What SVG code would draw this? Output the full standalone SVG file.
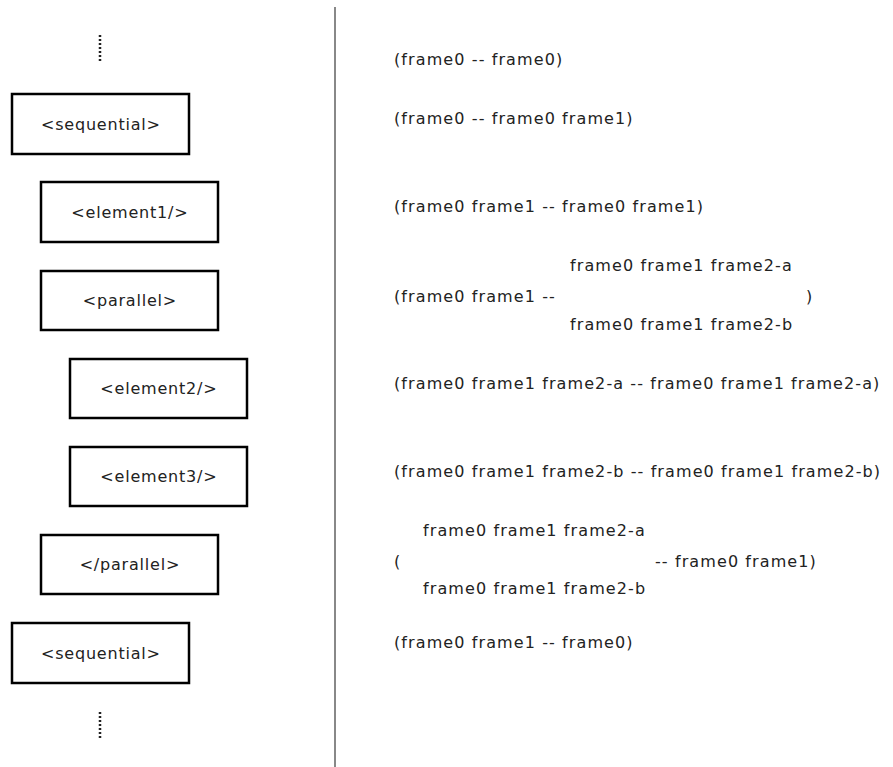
<svg xmlns="http://www.w3.org/2000/svg" width="893" height="767" viewBox="0 0 893 767">
  <style>
    .box rect { fill: #fff; stroke: #000; stroke-width: 2.5; }
    .lbl { font-family: "DejaVu Sans", Verdana, sans-serif; font-size: 16px; fill: #222; }
    .box .lbl { letter-spacing: 0.8px; text-anchor: middle; }
    #effects .lbl { letter-spacing: 1.1px; }
    .dots { stroke: #222; stroke-width: 2.5; stroke-dasharray: 2 2; fill: none; }
    .divider { stroke: #888; stroke-width: 2; }
  </style>
  <rect width="893" height="767" fill="#fff"/>

  <!-- continuation marks and divider -->
  <g id="connectors">
    <line class="dots" x1="100" y1="35" x2="100" y2="63"/>
    <line class="dots" x1="100" y1="712" x2="100" y2="740"/>
    <line class="divider" x1="335" y1="7" x2="335" y2="767"/>
  </g>

  <!-- element nodes -->
  <g id="sequential-open" class="box">
    <rect x="12" y="94" width="177" height="60"/>
    <text class="lbl" x="100.9" y="130">&lt;sequential&gt;</text>
  </g>
  <g id="element1" class="box">
    <rect x="41" y="182" width="177" height="60"/>
    <text class="lbl" x="129.9" y="218">&lt;element1/&gt;</text>
  </g>
  <g id="parallel-open" class="box">
    <rect x="41" y="271" width="177" height="59"/>
    <text class="lbl" x="129.9" y="306">&lt;parallel&gt;</text>
  </g>
  <g id="element2" class="box">
    <rect x="70" y="359" width="177" height="59"/>
    <text class="lbl" x="158.9" y="394">&lt;element2/&gt;</text>
  </g>
  <g id="element3" class="box">
    <rect x="70" y="447" width="177" height="59"/>
    <text class="lbl" x="158.9" y="482">&lt;element3/&gt;</text>
  </g>
  <g id="parallel-close" class="box">
    <rect x="41" y="535" width="177" height="59"/>
    <text class="lbl" x="129.9" y="570">&lt;/parallel&gt;</text>
  </g>
  <g id="sequential-close" class="box">
    <rect x="12" y="623" width="177" height="60"/>
    <text class="lbl" x="100.9" y="659">&lt;sequential&gt;</text>
  </g>

  <!-- stack effects -->
  <g id="effects">
    <text class="lbl" x="394" y="65">(frame0 -- frame0)</text>
    <text class="lbl" x="394" y="124">(frame0 -- frame0 frame1)</text>
    <text class="lbl" x="394" y="212">(frame0 frame1 -- frame0 frame1)</text>
    <text class="lbl" x="570" y="271">frame0 frame1 frame2-a</text>
    <text class="lbl" x="394" y="302">(frame0 frame1 --</text>
    <text class="lbl" x="806" y="302">)</text>
    <text class="lbl" x="570" y="330">frame0 frame1 frame2-b</text>
    <text class="lbl" x="394" y="389">(frame0 frame1 frame2-a -- frame0 frame1 frame2-a)</text>
    <text class="lbl" x="394" y="477">(frame0 frame1 frame2-b -- frame0 frame1 frame2-b)</text>
    <text class="lbl" x="423" y="536">frame0 frame1 frame2-a</text>
    <text class="lbl" x="394" y="567">(</text>
    <text class="lbl" x="655" y="567">-- frame0 frame1)</text>
    <text class="lbl" x="423" y="594">frame0 frame1 frame2-b</text>
    <text class="lbl" x="394" y="648">(frame0 frame1 -- frame0)</text>
  </g>
</svg>
